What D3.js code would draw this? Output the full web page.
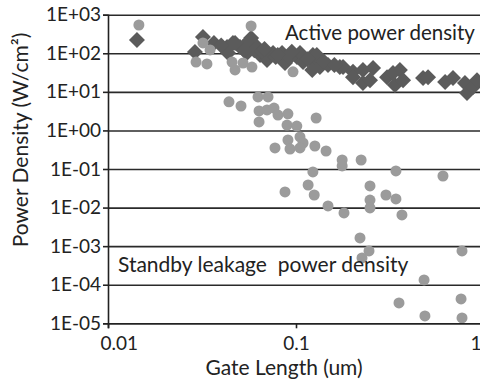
<!DOCTYPE html>
<html>
<head>
<meta charset="utf-8">
<script src="https://cdn.jsdelivr.net/npm/d3@7"></script>
<style>
  body { margin: 0; background: #fff; }
  svg text { font-family: Lato, 'Open Sans', sans-serif; fill: #222; }
</style>
</head>
<body>
<div id="chart"></div>
<script>
// gate length (um) / power density (W/cm2)
const activeGate = [0.01425, 0.0290, 0.0320, 0.0366, 0.0430, 0.0462, 0.0474, 0.0504, 0.0523, 0.0569, 0.0577,
  0.0621, 0.0435, 0.0548, 0.0644, 0.0701, 0.0755, 0.0843, 0.0874, 0.1012, 0.105, 0.109, 0.123, 0.126, 0.129,
  0.122, 0.134, 0.148, 0.171, 0.178, 0.201, 0.201, 0.227, 0.227, 0.2475, 0.257, 0.305, 0.328, 0.357, 0.336,
  0.371, 0.474, 0.504, 0.621, 0.684, 0.792, 0.812, 0.874, 0.918, 0.0600, 0.0780, 0.0660,
  0.0400, 0.0530, 0.0680, 0.0800, 0.0920, 0.0950, 0.115, 0.140, 0.160];
const activePower = [221, 108, 264, 185, 145, 185, 185, 145, 145, 221, 249,
  145, 102, 102, 90, 67, 102, 102, 56, 80, 102, 59, 90, 56, 90,
  37, 44, 50, 44, 44, 33, 24, 37, 17, 20, 41.5, 24, 31, 37, 15,
  20, 23, 24, 18, 23, 17, 9.3, 13.4, 20, 120, 80, 110,
  160, 120, 130, 90, 75, 110, 70, 62, 50];

const leakGate = [0.0146, 0.0577, 0.0320, 0.0349, 0.0294, 0.0336, 0.0457, 0.0474, 0.0523, 0.0583, 0.0964,
  0.0440, 0.0510, 0.0628, 0.0710, 0.0636, 0.0701, 0.0764, 0.0802, 0.0906, 0.0636, 0.128, 0.0896, 0.101,
  0.0906, 0.105, 0.109, 0.0773, 0.0929, 0.105, 0.126, 0.1445, 0.176, 0.176, 0.222, 0.123, 0.340, 0.605,
  0.0874, 0.116, 0.125, 0.2475, 0.2475, 0.301, 0.340, 0.148, 0.2475, 0.180, 0.366, 0.219, 0.2446, 0.2244,
  0.764, 0.480, 0.353, 0.485, 0.755, 0.764];
const leakPower = [541, 509, 185, 122, 59, 53, 59, 37, 56, 44, 33,
  5.5, 4.3, 7.4, 7.4, 3.2, 3.4, 3.8, 2.5, 2.7, 1.66, 2.1, 1.38, 1.3,
  0.565, 0.676, 0.472, 0.351, 0.33, 0.351, 0.395, 0.293, 0.171, 0.12, 0.171, 0.0837, 0.0889, 0.0659,
  0.0254, 0.0385, 0.0212, 0.0363, 0.0157, 0.0212, 0.0167, 0.0110, 0.00977, 0.00724, 0.00643, 0.00163, 0.00075, 0.000494,
  0.00075, 0.000133, 0.0000337, 0.0000155, 0.0000428, 0.0000138];

const xTicks = [0.01, 0.1, 1];
const yTicks = [1e-5, 1e-4, 1e-3, 1e-2, 1e-1, 1e0, 1e1, 1e2, 1e3];

const W = 480, H = 390;
const margin = { top: 14.7, left: 108 };
const width = 376, height = 308.6;

const svg = d3.select('#chart').append('svg')
  .attr('width', W).attr('height', H);
const g = svg.append('g').attr('transform', `translate(${margin.left},${margin.top})`);

const x = d3.scaleLog().domain([0.01, 1]).range([0, width]);
const y = d3.scaleLog().domain([1e-5, 1e3]).range([height, 0]);

// horizontal grid
g.append('g')
  .call(d3.axisLeft(y).tickValues(yTicks).tickSize(-width).tickFormat(() => ''))
  .call(a => a.select('.domain').remove())
  .call(a => a.selectAll('line').attr('stroke', '#2a2a2a').attr('stroke-width', 1.6));

// points: diamonds first, circles on top
const active = activeGate.map((v, i) => ({ x: v, y: activePower[i] }));
const leak = leakGate.map((v, i) => ({ x: v, y: leakPower[i] }));

const diamond = d3.symbol().type(d3.symbolSquare).size(128);
g.append('g').selectAll('path').data(active).join('path')
  .attr('d', diamond)
  .attr('transform', d => `translate(${x(d.x)},${y(d.y)}) rotate(45)`)
  .attr('fill', '#5b5b5b');

g.append('g').selectAll('circle').data(leak).join('circle')
  .attr('cx', d => x(d.x)).attr('cy', d => y(d.y))
  .attr('r', 5.5)
  .attr('fill', '#9b9b9b');

// y axis
const fmtE = d => {
  const e = Math.round(Math.log10(d));
  return '1E' + (e < 0 ? '-' : '+') + String(Math.abs(e)).padStart(2, '0');
};
const yAxis = g.append('g')
  .call(d3.axisLeft(y).tickValues(yTicks).tickSize(5).tickPadding(2).tickFormat(fmtE));
yAxis.select('.domain').attr('stroke', '#222').attr('stroke-width', 1.6);
yAxis.selectAll('line').attr('stroke', '#222').attr('stroke-width', 1.6);
yAxis.selectAll('text').style('font-size', '19px').attr('fill', '#222');

// x axis
const xAxis = g.append('g')
  .attr('transform', `translate(0,${height})`)
  .call(d3.axisBottom(x).tickValues(xTicks).tickSize(5).tickPadding(8).tickFormat(d => String(d)));
xAxis.select('.domain').attr('stroke', '#222').attr('stroke-width', 1.6);
xAxis.selectAll('line').attr('stroke', '#222').attr('stroke-width', 1.6);
xAxis.selectAll('text').style('font-size', '19px').attr('fill', '#222');
// keep the end labels inside the picture
xAxis.selectAll('.tick text')
  .attr('text-anchor', (d, i) => i === 0 ? 'start' : (i === xTicks.length - 1 ? 'end' : 'middle'))
  .attr('dx', (d, i) => i === 0 ? -8 : (i === xTicks.length - 1 ? -3 : 0));

// axis titles
svg.append('text')
  .attr('x', 284).attr('y', 375)
  .attr('text-anchor', 'middle')
  .style('font-size', '21px')
  .text('Gate Length (um)');

svg.append('text')
  .attr('transform', 'translate(28,140) rotate(-90)')
  .attr('text-anchor', 'middle')
  .style('font-size', '21px')
  .text('Power Density (W/cm\u00B2)');

// annotations
g.append('text')
  .attr('x', x(0.0874)).attr('y', y(215))
  .style('font-size', '20.5px')
  .text('Active power density');

g.append('text')
  .attr('x', x(0.0113)).attr('y', y(0.00021))
  .style('font-size', '21px')
  .attr('xml:space', 'preserve')
  .style('white-space', 'pre')
  .text('Standby leakage  power density');
</script>
</body>
</html>
